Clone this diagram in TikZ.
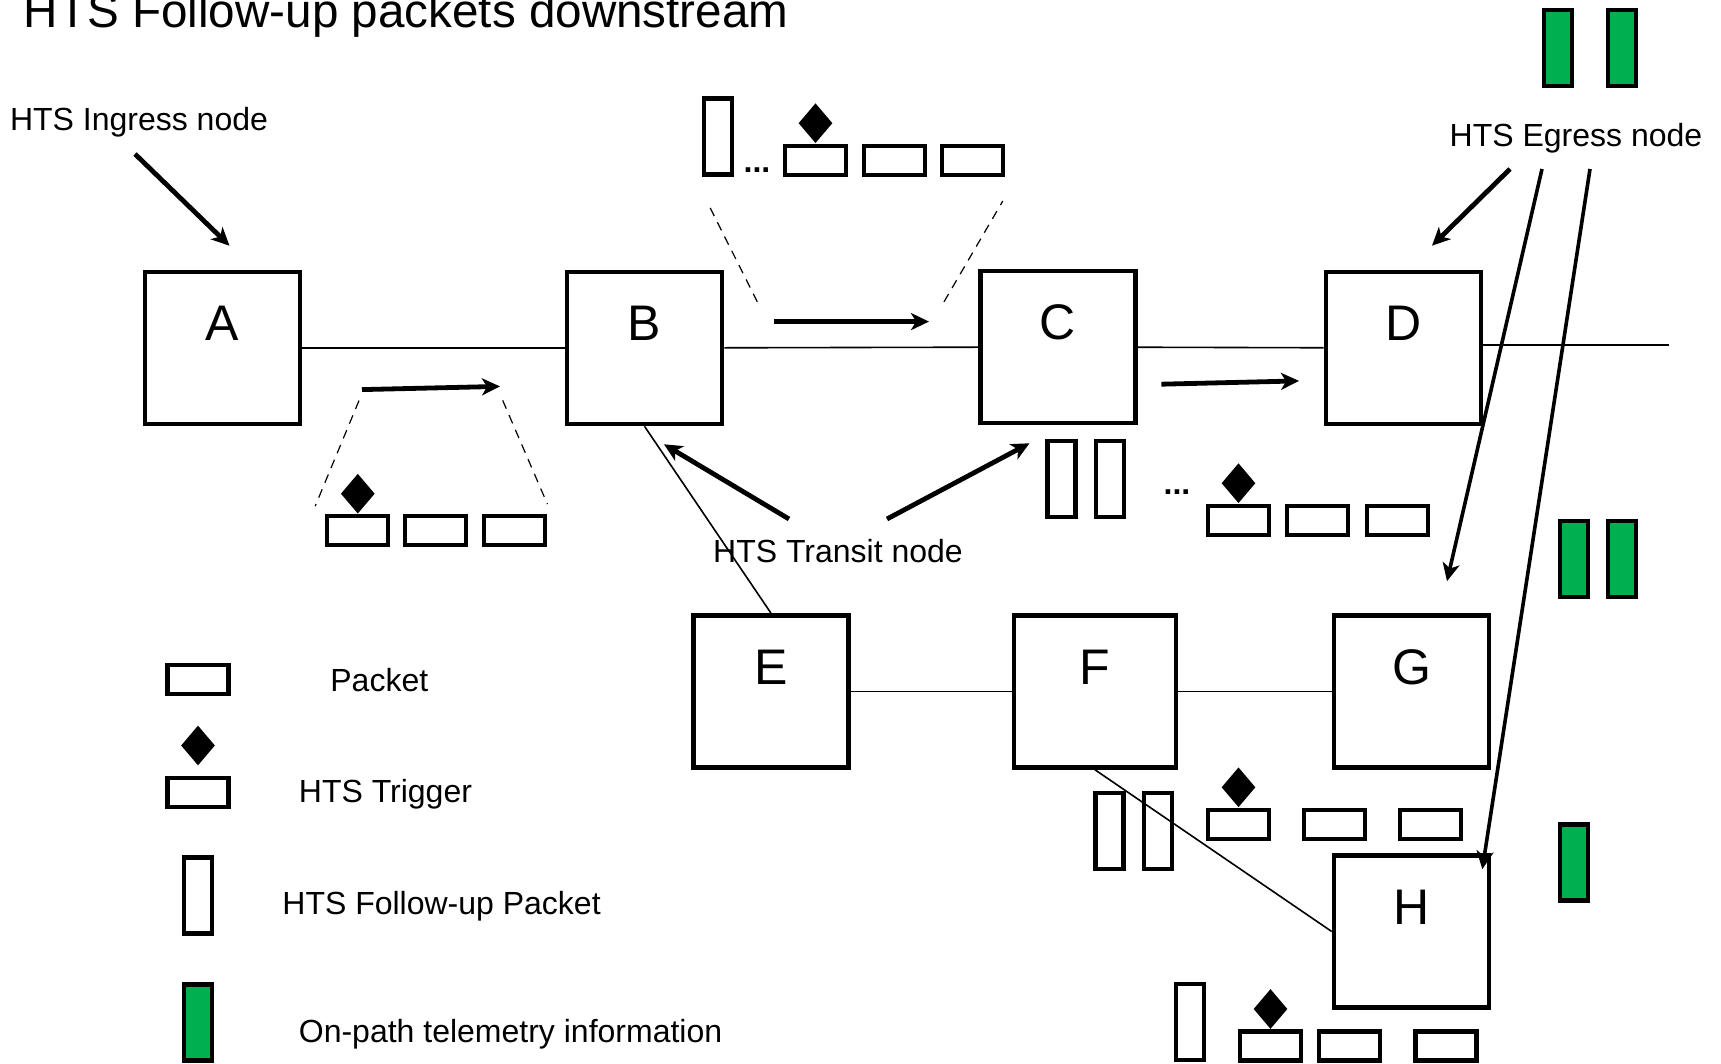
\documentclass[tikz,border=0pt]{standalone}
\usepackage{fontspec}
\setmainfont{Liberation Sans}
\usepackage{tikz}
\usetikzlibrary{positioning,shapes.geometric,arrows.meta,calc}
\definecolor{telgreen}{HTML}{00B050}

\begin{document}
\begin{tikzpicture}[x=0.5pt,y=-0.5pt,
  router/.style={draw, line width=2.3pt, minimum width=77.5pt, minimum height=76pt, inner sep=0pt,
    font=\fontsize{25}{25}\selectfont, text height=17.5pt, text depth=25pt},
  pkt/.style={draw, line width=2.1pt, minimum width=30.5pt, minimum height=14.5pt, inner sep=0pt},
  fup/.style={draw, line width=2.1pt, minimum width=14pt, minimum height=38pt, inner sep=0pt},
  tel/.style={fup, fill=telgreen},
  trig/.style={diamond, fill=black, inner sep=0pt, minimum width=17pt, minimum height=20pt},
  link/.style={line width=0.8pt},
  bigarrow/.style={line width=2.4pt, -{Stealth[length=9pt,width=8.5pt,inset=2.5pt]}},
  longarrow/.style={bigarrow, line width=1.8pt},
  guide/.style={line width=0.6pt, dash pattern=on 4.5pt off 3.5pt},
  lbl/.style={font=\fontsize{16}{16}\selectfont, inner sep=0pt},
  dots/.style={font=\fontsize{16}{16}\selectfont\bfseries, inner sep=0pt}
]
\useasboundingbox (0,0) rectangle (1721,1064);

% title and labels
\node[font=\fontsize{23.8}{23.8}\selectfont, anchor=base west, inner sep=0pt] (title) at (23.5,27.4) {HTS Follow-up packets downstream};
\node[lbl, anchor=base] (ingr) at (139,130.6) {HTS Ingress node};
\node[lbl, anchor=base] (egr) at (1576,147) {HTS Egress node};
\node[lbl, anchor=base] (trans) at (838,562) {HTS Transit node};

% HTS nodes
\node[router] (A) at (222.5,348) {A};
\node[router] (B) at (644.5,348) {B};
\node[router] (C) at (1058,347) {C};
\node[router] (D) at (1403.5,348) {D};
\node[router] (E) at (771,691.5) {E};
\node[router, minimum width=81pt] (F) at (1095,691.5) {F};
\node[router] (G) at (1411.5,691.5) {G};
\node[router] (H) at (1411.5,931.5) {H};

% links
\coordinate (Dout) at (1669,345);
\draw[link] (A) -- (B);
\draw[link] (B) -- (C);
\draw[link] (C) -- (D);
\draw[link] (D.east |- Dout) -- (Dout);
\draw[link] (B.south) -- (E.north);
\draw[link] (E) -- (F);
\draw[link] (F) -- (G);
\draw[link] (F.south) -- (H.west);

% pointers from the labels
\coordinate (ingT) at (135,154);
\coordinate (egT1) at (1510,169);
\coordinate (egT2) at (1542,169);
\coordinate (egT3) at (1590,169);
\coordinate (trT1) at (789,519);
\coordinate (trT2) at (887,519);
\draw[bigarrow] (ingT) -- ($(A.north)+(7,-24)$);
\draw[bigarrow] (egT1) -- ($(D.north)+(28.5,-24)$);
\draw[longarrow] (egT2) -- ($(G.north)+(35.5,-32)$);
\draw[longarrow] (egT3) -- ($(H.north east)+(-9,16)$);
\draw[bigarrow] (trT1) -- ($(B.south)+(19.5,18)$);
\draw[bigarrow] (trT2) -- ($(C.south)+(-28.5,18)$);

% direction of the flow
\coordinate (fAB0) at (362,389.6);
\coordinate (fAB1) at (500,386.4);
\coordinate (fBC0) at (773.8,321.6);
\coordinate (fBC1) at (929,321.6);
\coordinate (fCD0) at (1161.3,384.2);
\coordinate (fCD1) at (1299,380.9);
\draw[bigarrow] (fAB0) -- (fAB1);
\draw[bigarrow] (fBC0) -- (fBC1);
\draw[bigarrow] (fCD0) -- (fCD1);

% packets between A and B
\foreach \x [count=\i] in {357.8,435.8,514.8}
  \node[pkt] (lp\i) at (\x,530.7) {};
\node[trig, above=0pt of lp1] (lt) {};
\draw[guide] ($(fAB0)+(-3,11)$) -- ($(lp1.north west)+(-10,-8)$);
\draw[guide] ($(fAB1)+(2.7,14)$) -- ($(lp3.north east)+(0,-10)$);

% packets between B and C
\node[fup] (uf) at (717.8,136.6) {};
\node[dots] (udots) at (757,170) {...};
\foreach \x [count=\i] in {815.5,894.5,972.5}
  \node[pkt] (up\i) at (\x,160.2) {};
\node[trig, above=0pt of up1] (ut) {};
\draw[guide] ($(fBC0)+(-16.5,-19.8)$) -- ($(uf.south west)+(5.5,25.3)$);
\draw[guide] ($(fBC1)+(15,-19.8)$) -- ($(up3.south east)+(-2.3,24.2)$);

% packets between C and D
\foreach \x [count=\i] in {1061.4,1109.7}
  \node[fup] (mf\i) at (\x,479) {};
\node[dots] (mdots) at (1177,492) {...};
\foreach \x [count=\i] in {1238.5,1317.5,1397.7}
  \node[pkt] (mp\i) at (\x,520.2) {};
\node[trig, above=0pt of mp1] (mt) {};

% packets below F
\foreach \x [count=\i] in {1109.5,1158}
  \node[fup] (ff\i) at (\x,830.9) {};
\foreach \x [count=\i] in {1238.5,1334.2,1430.6}
  \node[pkt] (fp\i) at (\x,824.3) {};
\node[trig, above=0pt of fp1] (ft) {};

% packets below H
\node[fup] (hf) at (1190,1022) {};
\foreach \x [count=\i] in {1270.5,1349.5,1446}
  \node[pkt] (hp\i) at (\x,1046) {};
\node[trig, above=0pt of hp1] (ht) {};

% telemetry
\foreach \x [count=\i] in {1557.9,1621.7}
  \node[tel] (gt\i) at (\x,47.7) {};
\foreach \x [count=\i] in {1574,1622.3}
  \node[tel] (gm\i) at (\x,559) {};
\node[tel] (gb) at (1574,862.5) {};

% legend
\node[pkt] (keyPkt) at (198,679.5) {};
\node[pkt] (keyTrig) at (198,792.5) {};
\node[trig, above=5pt of keyTrig] (keyDia) {};
\node[fup] (keyFup) at (198,895.5) {};
\node[tel] (keyTel) at (198,1022.5) {};
\node[lbl, anchor=base west] at (330,691.5) {Packet};
\node[lbl, anchor=base west] at (298.5,802) {HTS Trigger};
\node[lbl, anchor=base west] at (282,914) {HTS Follow-up Packet};
\node[lbl, anchor=base west] at (298.5,1042.7) {On-path telemetry information};
\end{tikzpicture}
\end{document}
